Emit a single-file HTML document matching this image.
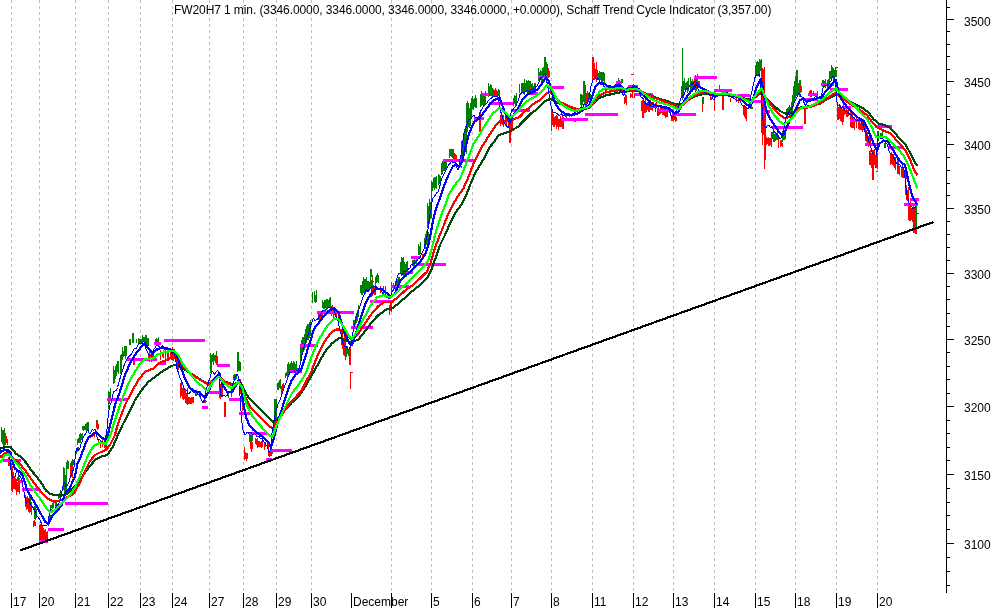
<!DOCTYPE html><html><head><meta charset="utf-8"><title>chart</title><style>
html,body{margin:0;padding:0;background:#fff;}body{width:994px;height:608px;position:relative;overflow:hidden;font-family:"Liberation Sans",sans-serif;font-size:12px;color:#000;}
.t{position:absolute;white-space:nowrap;line-height:14px;height:14px;will-change:transform;}
</style></head><body>
<svg width="994" height="608" viewBox="0 0 994 608" shape-rendering="crispEdges" style="position:absolute;left:0;top:0">
<rect width="994" height="608" fill="#fff"/>
<path d="M11.5 0V591M39.5 0V591M75.5 0V591M108.5 0V591M140.5 0V591M172.5 0V591M209.5 0V591M243.5 0V591M276.5 0V591M311.5 0V591M391.5 0V591M431.5 0V591M472.5 0V591M511.5 0V591M551.5 0V591M592.5 0V591M633.5 0V591M673.5 0V591M714.5 0V591M755.5 0V591M795.5 0V591M836.5 0V591M877.5 0V591" stroke="#c0c0c0" stroke-width="1" stroke-dasharray="3 3" fill="none"/>
<path d="M1.5 427V442M2.5 430V444M3.5 430V446M4.5 428V446M5.5 433V445M17.5 477V481M18.5 475V481M19.5 478V481M29.5 495V508M30.5 495V508M34.5 506V519M35.5 504V520M36.5 509V518M48.5 518V526M49.5 515V523M50.5 515V521M50.5 505V510M51.5 505V508M52.5 503V509M53.5 502V508M55.5 502V507M56.5 501V509M58.5 494V499M59.5 493V498M60.5 490V498M63.5 467V490M64.5 472V489M65.5 475V489M66.5 469V493M66.5 462V471M67.5 460V469M68.5 461V469M70.5 463V469M71.5 461V471M72.5 459V470M72.5 461V466M73.5 460V465M74.5 461V465M76.5 448V454M77.5 447V452M78.5 447V450M77.5 439V445M78.5 438V443M79.5 434V443M80.5 433V443M81.5 434V440M82.5 433V440M82.5 426V430M83.5 426V431M84.5 426V430M85.5 424V430M86.5 423V431M87.5 422V430M88.5 422V430M96.5 420V424M97.5 420V424M106.5 433V438M107.5 431V438M108.5 432V439M108.5 391V409M109.5 392V404M110.5 388V398M113.5 366V384M114.5 370V383M115.5 366V379M116.5 364V376M117.5 361V372M118.5 361V374M120.5 355V374M121.5 354V372M122.5 347V360M123.5 351V357M124.5 346V356M125.5 346V359M126.5 346V356M129.5 339V345M130.5 339V345M132.5 333V343M133.5 333V343M136.5 339V343M138.5 338V343M139.5 339V344M140.5 339V343M141.5 339V343M142.5 335V343M143.5 337V342M144.5 337V343M145.5 335V345M146.5 335V345M147.5 338V346M148.5 338V346M155.5 339V345M156.5 338V345M157.5 339V346M158.5 337V345M195.5 390V396M196.5 392V396M200.5 391V397M210.5 353V362M211.5 355V366M212.5 354V362M213.5 353V365M214.5 355V361M215.5 355V363M216.5 351V362M210.5 358V373M211.5 358V373M228.5 392V398M231.5 392V397M233.5 375V380M234.5 374V381M235.5 374V380M236.5 375V379M237.5 352V372M238.5 352V371M239.5 361V371M240.5 362V371M249.5 435V442M250.5 434V443M251.5 434V442M252.5 434V441M270.5 449V455M271.5 448V456M272.5 449V454M273.5 421V435M274.5 408V428M275.5 407V424M276.5 404V416M277.5 383V390M278.5 382V390M279.5 380V388M280.5 379V389M285.5 373V378M286.5 372V376M287.5 369V377M288.5 370V375M287.5 364V371M288.5 362V371M289.5 364V372M290.5 363V372M291.5 361V372M292.5 363V370M293.5 361V372M294.5 362V372M295.5 364V371M296.5 361V372M300.5 349V361M301.5 348V355M302.5 341V354M303.5 337V350M304.5 339V350M305.5 334V348M306.5 332V343M307.5 327V340M308.5 326V340M309.5 324V333M310.5 321V331M312.5 292V303M314.5 291V302M315.5 295V303M316.5 290V302M322.5 300V308M323.5 302V309M324.5 300V309M325.5 300V308M326.5 299V309M327.5 299V308M328.5 300V307M329.5 298V308M330.5 297V308M346.5 346V357M347.5 346V354M348.5 349V356M353.5 320V327M354.5 320V326M355.5 316V325M356.5 313V323M357.5 310V321M358.5 305V317M360.5 285V293M361.5 285V295M362.5 281V295M363.5 283V293M364.5 280V294M365.5 279V294M366.5 279V292M367.5 281V290M368.5 281V290M369.5 282V291M370.5 277V288M371.5 280V289M372.5 275V287M363.5 277V283M364.5 279V283M365.5 279V285M366.5 277V284M375.5 277V283M376.5 277V282M377.5 276V282M378.5 276V283M391.5 282V294M393.5 283V291M395.5 283V290M396.5 280V289M397.5 279V291M398.5 277V287M399.5 277V290M370.5 269V277M371.5 269V277M376.5 275V283M377.5 273V280M378.5 275V283M400.5 262V273M401.5 257V276M402.5 258V275M403.5 257V276M404.5 262V275M405.5 264V274M406.5 262V277M407.5 261V273M412.5 260V266M413.5 260V267M414.5 258V267M415.5 260V264M416.5 259V266M418.5 244V255M419.5 246V255M420.5 242V254M424.5 238V248M425.5 234V249M426.5 231V245M427.5 230V248M428.5 232V246M427.5 203V228M428.5 206V223M429.5 199V224M430.5 202V219M431.5 192V218M431.5 181V192M432.5 182V191M433.5 178V188M434.5 177V190M435.5 177V188M436.5 176V189M438.5 174V185M439.5 175V184M440.5 176V186M441.5 163V175M442.5 161V174M443.5 162V171M444.5 161V171M445.5 160V171M446.5 160V170M449.5 149V158M450.5 149V156M451.5 149V157M452.5 149V158M453.5 149V160M461.5 148V159M462.5 147V157M463.5 144V155M464.5 144V156M465.5 139V151M466.5 137V154M466.5 110V134M467.5 114V132M468.5 107V127M469.5 108V128M470.5 104V126M471.5 105V119M472.5 96V109M473.5 99V110M474.5 98V107M475.5 95V108M476.5 98V108M480.5 94V107M481.5 91V106M482.5 94V105M483.5 96V105M484.5 96V105M485.5 91V105M488.5 83V97M489.5 86V96M490.5 84V96M491.5 85V96M492.5 88V96M497.5 91V96M498.5 89V96M499.5 90V97M508.5 121V126M509.5 122V126M510.5 121V126M513.5 98V106M514.5 95V104M515.5 96V106M516.5 93V104M519.5 84V93M521.5 83V93M522.5 83V93M523.5 83V94M524.5 79V95M525.5 83V91M526.5 80V92M527.5 81V94M528.5 80V94M529.5 81V90M530.5 81V95M531.5 84V92M532.5 83V90M533.5 86V92M534.5 83V92M535.5 83V90M538.5 68V81M539.5 72V80M540.5 70V80M541.5 71V82M542.5 68V83M543.5 67V78M544.5 64V78M545.5 67V79M546.5 62V79M547.5 64V81M565.5 113V117M566.5 113V118M569.5 113V117M571.5 114V117M580.5 94V105M581.5 94V107M582.5 95V105M583.5 92V102M584.5 91V104M585.5 85V105M583.5 81V100M584.5 81V100M587.5 91V103M588.5 93V100M589.5 95V100M590.5 94V102M596.5 73V79M597.5 70V80M598.5 73V79M599.5 71V80M601.5 72V81M602.5 72V82M603.5 72V81M604.5 73V83M600.5 72V80M601.5 75V82M602.5 73V80M603.5 74V81M618.5 78V83M619.5 80V82M621.5 79V82M622.5 79V83M666.5 112V117M667.5 112V117M681.5 86V97M682.5 84V95M683.5 82V98M682.5 48V100M683.5 81V93M684.5 78V90M685.5 83V92M686.5 82V90M687.5 81V93M688.5 78V91M690.5 77V91M691.5 81V92M692.5 79V92M693.5 81V90M694.5 77V90M695.5 75V92M696.5 76V91M697.5 74V89M702.5 97V104M703.5 97V104M719.5 85V89M748.5 106V109M750.5 106V109M751.5 105V109M752.5 107V109M755.5 65V75M756.5 62V75M757.5 61V75M758.5 62V74M759.5 59V74M760.5 60V71M761.5 59V73M771.5 132V141M772.5 132V139M773.5 132V142M774.5 134V142M775.5 132V141M776.5 134V140M777.5 132V140M778.5 135V142M782.5 131V142M783.5 133V140M784.5 133V140M785.5 133V139M786.5 109V119M787.5 108V118M788.5 107V115M789.5 105V116M790.5 107V115M791.5 102V113M792.5 102V114M792.5 95V110M793.5 86V107M794.5 81V101M795.5 79V98M796.5 76V94M795.5 76V92M796.5 75V96M797.5 78V92M798.5 83V95M799.5 80V97M800.5 80V93M796.5 70V95M797.5 70V95M822.5 80V87M823.5 80V86M824.5 81V87M825.5 79V88M827.5 80V88M828.5 79V87M829.5 79V88M829.5 71V81M830.5 71V79M831.5 70V79M832.5 67V78M833.5 68V81M834.5 70V80M835.5 67V77M836.5 70V77M831.5 65V80M845.5 111V114M846.5 111V115M847.5 111V114M848.5 111V115M877.5 131V141M878.5 131V141M880.5 133V137M881.5 133V137M882.5 130V136M884.5 143V148M885.5 143V148M300.5 345V358M301.5 340V356M302.5 337V354M303.5 337V352M304.5 334V350M305.5 329V343M306.5 326V341M307.5 324V340M308.5 324V338M309.5 322V338M310.5 320V336M461.5 141V159M462.5 141V155M463.5 133V150M464.5 129V149M465.5 126V145M466.5 128V149M466.5 103V135M467.5 101V129M468.5 103V125M469.5 108V123M470.5 103V118M471.5 98V117M660.5 109V111M663.5 109V112M64.5 468V495M65.5 476V491M66.5 469V493M544.5 57V75M545.5 57V75M274.5 399V436M275.5 399V434M275.5 399V425M276.5 399V425M897.5 167V172M899.5 167V172M901.5 167V171M902.5 168V173M915.5 206V228M916.5 206V228" stroke="#008000" stroke-width="1" fill="none"/>
<path d="M5.5 436V442M6.5 436V443M7.5 439V445M8.5 457V466M9.5 457V466M11.5 463V477M12.5 466V481M13.5 472V483M11.5 475V491M12.5 478V492M13.5 477V489M14.5 476V489M15.5 478V490M16.5 479V495M17.5 482V492M18.5 479V492M19.5 482V494M25.5 495V507M26.5 497V510M27.5 496V509M28.5 498V512M29.5 498V513M30.5 504V512M31.5 502V515M33.5 521V527M34.5 520V526M35.5 522V526M39.5 525V540M40.5 524V540M41.5 525V539M42.5 525V540M43.5 528V541M44.5 530V541M45.5 529V541M46.5 532V538M47.5 531V543M40.5 530V542M41.5 529V543M42.5 531V542M43.5 529V541M44.5 533V540M45.5 531V542M46.5 532V540M47.5 531V540M41.5 535V541M42.5 535V542M43.5 533V543M44.5 533V542M45.5 536V542M46.5 536V540M70.5 465V476M71.5 464V477M72.5 466V478M92.5 433V437M93.5 433V436M94.5 432V437M96.5 421V428M97.5 424V430M98.5 424V429M98.5 440V445M100.5 440V448M102.5 439V447M104.5 439V448M105.5 440V450M106.5 441V450M133.5 360V365M134.5 360V365M148.5 353V360M149.5 351V362M150.5 354V361M151.5 351V362M152.5 354V360M153.5 353V361M160.5 350V360M162.5 352V357M163.5 350V358M165.5 349V360M167.5 350V360M168.5 352V361M170.5 352V359M171.5 352V360M172.5 347V360M173.5 349V361M174.5 349V358M175.5 351V358M176.5 359V369M177.5 356V371M178.5 361V370M180.5 383V397M181.5 382V395M182.5 388V399M183.5 387V400M184.5 390V398M185.5 390V399M187.5 392V405M186.5 397V403M187.5 395V402M188.5 397V404M189.5 398V402M190.5 398V404M191.5 397V404M192.5 397V403M193.5 397V403M203.5 400V403M204.5 400V403M205.5 400V403M206.5 401V402M216.5 356V365M217.5 356V365M219.5 379V398M220.5 384V399M221.5 383V397M222.5 382V397M224.5 402V417M225.5 402V417M240.5 379V394M241.5 383V402M242.5 396V411M244.5 447V460M245.5 452V459M246.5 453V461M247.5 453V459M250.5 441V449M251.5 442V452M252.5 442V449M255.5 438V444M256.5 439V445M257.5 438V448M258.5 441V447M259.5 441V447M260.5 442V447M261.5 441V448M262.5 439V447M264.5 443V450M265.5 442V447M267.5 442V449M268.5 444V450M268.5 452V456M269.5 452V457M270.5 451V456M281.5 386V394M282.5 384V391M283.5 383V391M297.5 368V373M298.5 368V372M299.5 367V371M318.5 313V320M319.5 313V321M320.5 314V321M321.5 313V320M322.5 312V320M331.5 306V316M332.5 305V314M333.5 307V318M334.5 307V315M335.5 310V316M336.5 311V320M338.5 313V319M341.5 332V345M342.5 331V349M343.5 338V355M344.5 334V356M345.5 337V360M349.5 347V365M350.5 347V365M371.5 287V297M372.5 287V296M373.5 285V294M374.5 286V295M375.5 283V295M380.5 286V293M383.5 286V295M385.5 286V295M389.5 305V315M390.5 302V311M391.5 304V312M371.5 281V282M372.5 280V282M373.5 281V282M422.5 254V258M423.5 254V258M453.5 154V158M454.5 153V159M455.5 154V159M456.5 155V160M458.5 166V168M459.5 166V168M460.5 165V167M461.5 166V168M479.5 112V132M480.5 112V132M493.5 89V96M494.5 90V96M495.5 88V96M496.5 90V97M500.5 115V126M501.5 112V124M502.5 116V125M503.5 115V127M505.5 116V126M506.5 117V126M508.5 119V128M509.5 119V130M510.5 117V129M511.5 116V129M512.5 119V130M509.5 125V143M510.5 125V143M527.5 87V92M529.5 85V92M530.5 88V91M531.5 86V93M547.5 67V76M548.5 68V78M549.5 71V77M551.5 106V131M552.5 112V125M553.5 114V125M553.5 115V127M554.5 117V127M555.5 116V125M556.5 115V129M557.5 116V127M558.5 119V130M559.5 119V127M560.5 116V127M561.5 119V127M562.5 116V129M563.5 117V129M574.5 118V122M575.5 118V122M585.5 93V107M586.5 93V107M592.5 66V81M593.5 64V77M594.5 63V80M595.5 69V77M596.5 62V82M605.5 88V92M606.5 88V92M610.5 87V92M615.5 88V92M617.5 87V93M620.5 89V92M622.5 88V92M624.5 97V104M625.5 94V103M626.5 95V105M630.5 93V98M631.5 94V97M632.5 92V98M634.5 93V98M641.5 101V111M642.5 102V110M643.5 99V109M644.5 102V108M645.5 99V108M646.5 103V110M647.5 103V110M648.5 101V109M649.5 102V109M650.5 100V108M642.5 100V118M643.5 100V118M652.5 102V106M653.5 102V107M655.5 103V108M656.5 101V108M657.5 108V116M658.5 109V116M659.5 110V115M664.5 110V116M665.5 110V118M666.5 111V117M671.5 115V121M672.5 116V121M673.5 116V121M674.5 116V120M675.5 115V122M676.5 117V121M694.5 80V87M695.5 81V87M696.5 81V88M697.5 80V89M698.5 81V88M699.5 81V88M702.5 104V112M710.5 96V100M711.5 97V100M712.5 97V99M714.5 98V111M722.5 96V110M723.5 96V110M730.5 98V102M736.5 98V102M738.5 98V103M740.5 98V103M743.5 105V115M744.5 106V117M745.5 106V119M746.5 108V121M761.5 90V133M762.5 86V138M763.5 91V125M764.5 67V125M764.5 100V169M765.5 100V160M765.5 138V145M766.5 137V145M767.5 138V144M768.5 137V146M769.5 138V146M770.5 138V145M771.5 140V147M778.5 139V148M780.5 140V147M781.5 140V146M782.5 143V147M799.5 84V91M800.5 86V92M801.5 86V92M804.5 107V124M805.5 107V124M809.5 91V96M810.5 90V97M811.5 90V97M813.5 91V95M817.5 91V97M837.5 105V120M838.5 107V120M839.5 105V119M840.5 105V121M841.5 107V122M842.5 109V125M843.5 102V122M844.5 110V115M846.5 109V117M847.5 110V117M848.5 110V116M850.5 110V117M851.5 112V117M852.5 112V118M850.5 117V127M851.5 117V128M852.5 118V128M853.5 118V128M854.5 117V130M856.5 117V128M858.5 118V129M859.5 119V130M860.5 123V130M861.5 123V130M862.5 120V132M863.5 123V130M864.5 121V131M865.5 125V133M865.5 133V141M866.5 130V142M867.5 132V144M868.5 136V147M869.5 135V146M870.5 136V145M869.5 151V165M870.5 150V165M871.5 153V168M872.5 155V169M873.5 152V169M874.5 149V165M875.5 155V168M876.5 155V168M877.5 153V169M872.5 150V180M873.5 150V180M641.5 103V111M642.5 100V112M643.5 104V111M644.5 103V113M645.5 104V113M646.5 103V112M647.5 102V110M648.5 101V112M649.5 104V112M650.5 102V110M646.5 104V109M647.5 106V109M649.5 105V111M650.5 106V110M651.5 104V110M652.5 105V111M655.5 108V112M658.5 107V113M660.5 107V114M661.5 108V113M662.5 108V115M663.5 108V115M664.5 110V115M665.5 109V115M666.5 109V115M667.5 109V114M761.5 84V121M762.5 82V134M763.5 83V130M764.5 73V130M761.5 65V128M762.5 88V125M763.5 69V130M762.5 68V145M763.5 77V135M764.5 73V141M180.5 384V398M181.5 386V396M182.5 389V399M183.5 386V399M184.5 388V399M185.5 392V403M186.5 393V403M187.5 388V404M186.5 398V404M187.5 397V404M189.5 397V404M191.5 397V404M592.5 57V72M593.5 57V72M890.5 153V165M891.5 152V164M892.5 154V165M893.5 154V166M894.5 158V168M895.5 157V170M897.5 160V174M898.5 161V174M899.5 166V175M901.5 167V177M902.5 164V178M903.5 167V178M905.5 166V179M906.5 171V179M905.5 181V195M906.5 185V200M907.5 190V201M908.5 187V206M908.5 197V220M909.5 203V221M910.5 200V221M911.5 208V220M912.5 209V222M913.5 206V227M914.5 207V227M913.5 221V233M914.5 222V233M915.5 227V234M916.5 229V234" stroke="#ff0000" stroke-width="1" fill="none"/>
<path d="M631 74.5H634M876 171.5H878M350.5 372.5H353" stroke="#ff0000" stroke-width="1"/>
<path d="M836 67.5H838M915 213.5H919" stroke="#008000" stroke-width="1"/>
<path d="M350.5 372V389" stroke="#ff0000" stroke-width="1"/>
<path d="M3 460.5H21M19 481.5H23M22 489.5H40M65 503.5H108M48 529.5H64M39 541.5H48M107 399.5H128M127 359.5H157M154 343.5H161M164 340.5H205M159 363.5H166M217 365.5H230M207 392.5H220M202 407.5H208M229 399.5H242M239 413.5H251M249 433.5H267M270 450.5H292M266 459.5H272M290 371.5H302M300 345.5H318M317 312.5H354M351 327.5H373M370 301.5H394M391 286.5H409M406 272.5H413M411 257.5H420M418 264.5H446M443 160.5H475M474 118.5H484M482 94.5H489M489 103.5H513M511 110.5H530M529 93.5H538M538 76.5H548M548 87.5H564M561 119.5H588M585 114.5H618M616 82.5H622M628 86.5H638M635 94.5H653M650 106.5H657M658 110.5H674M672 114.5H696M694 77.5H717M714 90.5H732M737 95.5H750M753 101.5H764M762 111.5H770M772 127.5H803M804 99.5H818M808 94.5H817M821 84.5H834M830 89.5H848M844 107.5H851M850 120.5H864M875 126.5H892M865 144.5H879M888 147.5H904M910 199.5H919M904 204.5H918" stroke="#ff00ff" stroke-width="3" fill="none"/>
<polyline points="0.0,448.5 5.0,447.0 10.6,447.0 16.0,453.7 21.0,457.0 26.0,462.5 31.0,470.0 36.0,476.0 41.0,482.5 46.0,490.6 50.0,493.7 55.0,495.2 62.0,495.5 67.5,493.7 75.0,486.0 80.0,480.0 85.0,472.5 90.0,466.0 95.0,460.0 100.0,457.0 107.5,455.0 112.5,447.5 117.5,436.0 122.5,425.0 128.4,413.5 135.0,400.0 141.7,390.0 148.4,381.8 155.0,376.8 161.8,371.8 168.5,367.6 175.0,364.6 180.0,366.8 186.8,371.0 193.5,375.0 200.0,379.3 208.5,384.3 213.5,380.0 218.6,376.8 225.3,381.8 233.4,384.6 240.0,381.7 246.7,395.0 253.4,402.6 260.0,409.2 266.8,416.0 272.6,421.8 278.5,417.6 285.0,410.0 291.8,402.6 298.5,396.7 305.2,386.7 310.2,378.0 311.8,375.2 318.4,363.5 325.0,351.8 331.8,343.5 340.0,337.6 346.8,341.0 351.8,342.6 358.5,339.3 365.2,331.0 371.9,321.8 378.5,315.0 386.9,309.2 391.9,308.4 398.6,303.4 407.0,295.9 413.4,290.2 420.0,285.2 426.8,278.5 431.8,268.5 436.0,256.8 440.0,245.0 445.0,235.0 450.0,223.4 455.0,213.4 461.0,205.0 466.0,196.0 470.0,185.2 475.0,173.5 480.0,165.0 485.0,156.8 490.0,146.8 494.0,142.0 498.6,135.0 506.0,132.7 511.0,131.0 517.8,126.8 524.5,120.0 531.0,113.5 537.8,108.5 544.5,101.8 549.5,98.8 554.5,101.0 559.5,103.5 566.2,106.0 574.6,108.5 583.0,109.3 589.6,107.6 594.6,102.6 599.6,97.8 606.7,95.2 613.4,93.8 621.7,92.0 630.0,91.0 638.4,91.0 645.0,93.4 651.8,96.0 658.5,98.5 666.8,101.0 673.5,103.5 679.3,104.8 683.5,103.5 688.5,100.0 695.2,96.0 701.9,94.3 708.5,94.3 715.2,94.8 723.6,94.8 733.6,96.0 740.0,97.4 746.7,99.2 751.7,99.8 756.7,96.0 761.7,92.6 765.0,96.8 770.0,102.6 775.0,106.8 780.0,111.0 785.0,113.5 790.0,113.5 795.0,111.0 800.0,107.6 806.8,106.8 813.5,105.0 820.2,103.5 826.8,99.3 831.9,96.8 836.9,94.6 841.9,97.6 848.5,101.0 855.2,104.3 861.9,107.6 868.6,112.6 873.6,119.3 878.6,123.5 885.3,125.3 890.3,128.0 895.3,133.4 901.5,140.8 905.7,145.0 909.0,150.9 912.3,157.5 914.8,162.5 917.3,165.9" fill="none" stroke="#004b0a" stroke-width="2.2" stroke-linejoin="round" stroke-linecap="butt" />
<polyline points="0.0,457.5 5.0,452.7 8.7,452.7 12.5,457.5 18.7,462.5 25.0,470.0 31.0,478.7 37.5,487.5 43.7,495.0 49.0,499.5 55.0,501.7 60.0,500.5 66.0,498.0 73.7,493.7 80.0,482.5 85.0,471.0 90.0,461.0 95.0,455.0 100.0,452.5 106.0,450.0 110.0,445.0 115.0,435.0 117.5,425.0 125.0,405.0 131.7,391.8 138.4,380.0 145.0,371.8 153.4,368.4 160.0,362.6 166.8,360.0 173.5,356.7 178.5,361.0 183.5,366.8 190.0,373.4 196.9,377.6 203.5,381.8 208.5,385.0 213.5,379.3 218.6,376.0 225.3,382.5 233.4,385.5 239.2,382.5 245.0,396.7 250.0,406.7 256.7,413.4 263.4,420.0 270.0,426.8 272.6,428.5 276.8,421.8 281.8,415.0 288.5,405.0 295.2,397.6 301.8,390.0 306.8,380.0 310.0,375.2 315.0,361.8 320.0,350.0 325.0,341.0 331.0,332.6 336.8,329.3 341.0,330.0 346.8,336.0 351.8,339.3 358.5,333.5 365.2,323.4 371.9,313.4 378.5,305.9 385.2,301.7 391.0,302.6 398.6,296.7 405.6,290.0 413.4,284.6 420.0,278.5 426.8,271.8 431.0,261.8 434.3,250.0 438.5,238.4 442.6,228.4 447.7,215.0 452.7,205.0 457.7,196.5 463.4,188.5 468.5,176.8 473.5,163.5 478.5,153.5 482.7,145.5 489.4,135.0 496.0,125.0 500.3,120.5 506.0,121.0 512.8,119.6 519.5,117.0 526.0,110.4 532.8,104.5 539.5,100.2 546.2,93.4 549.5,91.8 553.7,96.0 559.5,101.8 566.2,105.0 574.6,108.5 583.0,109.3 591.3,106.0 596.3,98.4 601.3,94.3 606.7,92.0 613.4,91.0 621.7,89.8 630.0,90.0 638.4,90.0 645.0,93.4 651.8,96.8 658.5,99.3 666.8,102.6 673.5,105.0 678.5,106.8 683.5,104.3 688.5,100.0 693.5,96.0 700.2,93.0 706.9,93.0 713.6,94.3 720.2,94.3 728.6,94.3 737.0,96.0 740.0,97.5 746.7,99.8 751.7,101.0 756.7,95.0 761.7,91.0 765.0,96.8 770.0,103.4 775.0,110.0 780.0,115.0 785.0,118.5 790.0,116.8 795.0,112.6 800.0,108.5 806.8,107.6 813.5,106.0 820.2,103.0 826.8,98.4 831.9,95.0 836.0,92.6 840.2,96.8 846.9,101.8 853.6,106.0 860.2,110.0 866.9,115.0 871.9,121.8 876.9,127.0 883.6,130.5 890.3,133.4 895.3,138.8 901.5,145.8 905.7,150.9 909.0,157.5 912.3,165.0 914.8,171.7 917.3,175.0" fill="none" stroke="#ff0000" stroke-width="2.2" stroke-linejoin="round" stroke-linecap="butt" />
<polyline points="0.0,453.0 3.8,450.0 7.5,450.0 10.6,452.5 12.5,461.0 15.0,468.7 18.7,471.0 22.5,475.0 25.0,482.5 27.0,490.0 30.0,495.0 36.0,505.0 41.0,514.0 45.0,521.7 48.4,524.0 51.7,516.7 56.7,511.7 61.7,505.0 65.0,493.7 70.0,487.5 75.0,476.0 77.5,463.7 81.0,456.0 85.0,445.0 88.7,437.5 96.0,432.0 100.0,436.0 105.0,440.0 107.5,437.5 110.0,425.5 115.0,405.0 120.0,391.7 125.0,375.0 130.0,363.4 135.0,355.0 140.0,348.4 145.0,343.4 148.4,348.4 152.6,353.4 157.6,349.0 163.4,347.5 170.0,349.0 176.0,352.5 180.0,365.0 185.0,378.4 190.0,388.4 195.0,391.0 200.0,392.6 205.0,398.5 208.5,391.8 213.5,380.0 219.4,373.4 222.7,385.0 227.0,391.8 232.0,392.5 237.0,383.4 238.8,379.5 240.9,385.0 243.4,403.4 245.9,416.8 249.2,425.0 253.4,430.0 260.0,435.0 265.0,438.5 269.3,443.5 271.0,447.7 274.3,436.8 278.5,420.0 282.6,406.7 286.8,393.4 291.0,381.7 295.2,375.0 299.0,372.5 301.7,368.5 305.9,355.2 310.0,341.8 314.3,328.4 318.4,323.4 323.4,316.7 328.5,311.0 334.3,308.4 338.5,312.6 341.8,323.4 345.2,335.0 349.3,343.5 351.8,345.0 354.3,338.5 358.5,325.0 362.7,311.7 366.9,300.0 371.9,292.5 376.9,288.4 381.9,289.2 386.9,293.4 391.0,296.7 395.3,292.5 400.0,281.5 405.0,276.0 410.0,272.0 413.4,268.5 420.0,261.8 425.0,255.0 428.5,245.0 431.0,231.8 433.5,218.4 436.0,208.4 439.3,200.0 441.4,193.4 444.2,185.2 448.4,175.2 452.6,166.8 456.0,164.3 459.3,166.8 462.6,160.0 465.5,146.8 469.4,132.5 474.4,121.8 479.4,118.4 484.4,111.8 489.4,105.0 494.4,100.0 499.4,97.5 502.5,106.0 506.0,115.0 509.6,122.0 512.8,116.5 517.8,108.6 522.8,98.8 527.8,94.0 532.8,92.6 537.8,89.2 542.0,83.4 546.2,77.6 548.7,80.9 551.2,90.0 554.5,101.8 559.5,110.0 566.2,114.3 572.9,115.0 579.6,112.6 585.4,107.6 589.6,105.0 592.0,96.8 595.4,86.8 599.6,82.6 603.5,83.6 607.7,86.0 613.8,87.3 620.0,85.0 625.0,91.0 630.0,88.4 635.0,86.8 640.0,90.0 645.0,96.8 650.0,102.6 656.8,106.0 663.5,106.8 670.0,108.5 674.3,113.5 678.5,111.8 681.8,105.0 686.8,96.8 691.8,90.0 696.9,84.3 700.2,87.6 705.2,90.0 710.2,92.6 715.2,96.8 720.2,94.3 726.9,93.4 733.6,96.0 740.0,98.0 745.0,103.4 750.0,106.8 753.4,98.4 756.7,86.8 760.9,79.2 762.5,86.8 764.2,100.0 766.7,111.8 770.0,118.5 773.4,123.5 777.6,130.0 781.8,135.0 784.3,134.3 786.8,126.8 790.0,120.0 793.4,113.5 796.8,106.8 800.0,100.0 803.5,98.4 806.8,101.8 811.8,100.0 816.8,98.4 821.8,97.6 825.2,91.8 830.2,86.8 834.4,80.9 836.0,80.0 838.5,91.8 841.9,100.0 846.9,106.8 851.9,111.8 856.9,116.8 863.6,121.0 866.9,126.8 870.3,135.0 873.6,143.4 877.0,151.0 879.5,143.4 883.6,141.0 887.8,141.5 889.8,145.0 894.0,151.7 898.0,158.4 902.3,163.4 904.8,165.0 906.5,171.7 909.0,183.4 911.5,193.4 914.0,200.0 917.3,204.3" fill="none" stroke="#0000ff" stroke-width="2.2" stroke-linejoin="round" stroke-linecap="butt" />
<polyline points="0.0,452.1 0.5,450.7 1.0,448.9 1.5,447.6 2.0,447.1 2.5,447.1 3.0,447.3 3.5,447.7 4.0,448.2 4.5,448.7 5.0,449.4 5.5,450.4 6.0,451.2 6.5,451.6 7.0,451.6 7.5,451.8 8.0,452.4 8.5,453.4 9.0,454.6 9.5,456.4 10.0,459.6 10.5,464.5 11.0,469.7 11.5,473.5 12.0,475.7 12.5,476.8 13.0,477.5 13.5,477.9 14.0,478.0 14.5,477.7 15.0,476.8 15.5,475.1 16.0,473.2 16.5,471.8 17.0,471.3 17.5,471.4 18.0,472.3 18.5,473.7 19.0,475.1 19.5,475.9 20.0,476.4 20.5,477.0 21.0,477.7 21.5,478.7 22.0,480.7 22.5,483.7 23.0,486.8 23.5,489.5 24.0,492.0 24.5,495.1 25.0,498.3 25.5,501.2 26.0,502.9 26.5,503.3 27.0,502.4 27.5,500.9 28.0,499.7 28.5,499.3 29.0,499.7 29.5,500.9 30.0,502.7 30.5,504.1 31.0,505.1 31.5,505.7 32.0,506.2 32.5,506.7 33.0,507.4 33.5,508.3 34.0,509.6 34.5,510.7 35.0,511.5 35.5,512.4 36.0,513.7 36.5,515.0 37.0,516.0 37.5,516.7 38.0,517.3 38.5,517.7 39.0,518.4 39.5,519.2 40.0,520.2 40.5,521.3 41.0,522.4 41.5,523.5 42.0,524.7 42.5,525.7 43.0,526.1 43.5,525.8 44.0,525.7 44.5,525.8 45.0,525.8 45.5,525.5 46.0,525.3 46.5,525.3 47.0,525.1 47.5,524.1 48.0,521.9 48.5,519.0 49.0,516.1 49.5,513.9 50.0,511.8 50.5,510.2 51.0,509.7 51.5,510.2 52.0,510.8 52.5,510.8 53.0,510.4 53.5,510.1 54.0,509.9 54.5,509.4 55.0,508.7 55.5,508.0 56.0,507.4 56.5,506.7 57.0,505.9 57.5,505.3 58.0,504.6 58.5,503.7 59.0,502.9 59.5,502.1 60.0,501.0 60.5,499.3 61.0,496.8 61.5,494.0 62.0,491.1 62.5,488.4 63.0,485.9 63.5,483.9 64.0,482.7 64.5,482.8 65.0,484.3 65.5,485.9 66.0,486.6 66.5,486.3 67.0,485.6 67.5,484.9 68.0,484.2 68.5,483.3 69.0,481.8 69.5,479.9 70.0,478.3 70.5,476.9 71.0,475.6 71.5,474.3 72.0,473.0 72.5,471.8 73.0,470.6 73.5,469.1 74.0,466.8 74.5,463.4 75.0,459.0 75.5,454.4 76.0,450.6 76.5,448.4 77.0,447.9 77.5,448.5 78.0,449.4 78.5,450.0 79.0,450.0 79.5,449.3 80.0,447.8 80.5,446.1 81.0,444.4 81.5,443.0 82.0,441.7 82.5,439.9 83.0,438.2 83.5,436.8 84.0,435.8 84.5,435.2 85.0,434.6 85.5,433.8 86.0,432.9 86.5,432.0 87.0,430.9 87.5,430.1 88.0,430.2 88.5,431.3 89.0,432.7 89.5,433.7 90.0,434.0 90.5,433.4 91.0,432.3 91.5,431.1 92.0,430.2 92.5,429.8 93.0,429.9 93.5,430.2 94.0,430.1 94.5,429.6 95.0,429.6 95.5,430.5 96.0,432.6 96.5,434.9 97.0,436.9 97.5,438.3 98.0,439.5 98.5,439.9 99.0,439.8 99.5,439.6 100.0,439.8 100.5,440.2 101.0,440.8 101.5,441.6 102.0,442.3 102.5,442.9 103.0,443.0 103.5,442.7 104.0,441.9 104.5,440.7 105.0,439.2 105.5,437.6 106.0,435.6 106.5,432.9 107.0,429.0 107.5,423.9 108.0,418.5 108.5,413.7 109.0,410.0 109.5,407.3 110.0,405.4 110.5,404.0 111.0,402.7 111.5,401.3 112.0,399.4 112.5,396.9 113.0,394.3 113.5,392.5 114.0,391.6 114.5,391.1 115.0,390.9 115.5,390.8 116.0,390.4 116.5,390.0 117.0,389.2 117.5,387.5 118.0,385.5 118.5,383.5 119.0,381.6 119.5,379.8 120.0,378.5 120.5,377.1 121.0,375.4 121.5,373.5 122.0,371.8 122.5,370.2 123.0,368.7 123.5,367.1 124.0,365.5 124.5,364.1 125.0,362.8 125.5,361.6 126.0,360.9 126.5,360.2 127.0,359.2 127.5,358.2 128.0,357.4 128.5,357.0 129.0,356.8 129.5,356.3 130.0,355.6 130.5,355.1 131.0,354.6 131.5,354.0 132.0,353.3 132.5,352.2 133.0,351.1 133.5,350.1 134.0,349.3 134.5,348.7 135.0,348.5 135.5,348.4 136.0,348.4 136.5,348.0 137.0,347.2 137.5,346.2 138.0,345.0 138.5,344.0 139.0,343.3 139.5,343.2 140.0,343.2 140.5,343.2 141.0,343.1 141.5,343.1 142.0,343.3 142.5,342.9 143.0,342.0 143.5,341.6 144.0,342.3 144.5,344.0 145.0,346.1 145.5,347.8 146.0,349.2 146.5,350.4 147.0,351.2 147.5,352.2 148.0,353.2 148.5,354.3 149.0,355.1 149.5,355.4 150.0,355.3 150.5,355.5 151.0,356.1 151.5,356.1 152.0,354.9 152.5,353.0 153.0,351.3 153.5,349.9 154.0,349.1 154.5,348.6 155.0,348.0 155.5,347.1 156.0,346.3 156.5,345.7 157.0,345.4 157.5,345.3 158.0,345.6 158.5,346.0 159.0,346.5 159.5,347.1 160.0,347.8 160.5,348.1 161.0,347.7 161.5,346.9 162.0,345.9 162.5,345.7 163.0,346.5 163.5,347.8 164.0,348.7 164.5,349.2 165.0,349.1 165.5,349.1 166.0,349.4 166.5,349.5 167.0,349.0 167.5,348.5 168.0,348.7 168.5,349.2 169.0,349.6 169.5,349.8 170.0,350.2 170.5,351.0 171.0,352.3 171.5,353.3 172.0,353.4 172.5,352.8 173.0,352.3 173.5,352.3 174.0,353.1 174.5,354.1 175.0,355.7 175.5,358.4 176.0,362.0 176.5,365.7 177.0,368.5 177.5,370.2 178.0,371.5 178.5,373.0 179.0,374.9 179.5,376.8 180.0,378.3 180.5,379.3 181.0,380.0 181.5,381.0 182.0,382.4 182.5,383.8 183.0,385.2 183.5,386.7 184.0,387.9 184.5,388.8 185.0,389.4 185.5,389.9 186.0,390.2 186.5,390.6 187.0,391.3 187.5,392.4 188.0,393.5 188.5,394.0 189.0,393.8 189.5,393.1 190.0,392.4 190.5,391.6 191.0,390.9 191.5,390.6 192.0,390.6 192.5,391.0 193.0,391.6 193.5,392.1 194.0,392.2 194.5,392.2 195.0,392.1 195.5,391.6 196.0,391.5 196.5,392.1 197.0,393.3 197.5,394.4 198.0,394.9 198.5,394.8 199.0,394.6 199.5,395.1 200.0,396.4 200.5,398.1 201.0,399.2 201.5,399.9 202.0,400.8 202.5,401.8 203.0,402.4 203.5,402.0 204.0,400.6 204.5,398.3 205.0,395.3 205.5,392.4 206.0,390.2 206.5,388.6 207.0,387.2 207.5,385.7 208.0,383.9 208.5,382.2 209.0,380.6 209.5,379.3 210.0,377.9 210.5,376.2 211.0,374.4 211.5,373.0 212.0,371.9 212.5,371.4 213.0,371.9 213.5,373.0 214.0,373.9 214.5,374.1 215.0,373.8 215.5,373.1 216.0,372.2 216.5,371.4 217.0,370.8 217.5,370.4 218.0,370.7 218.5,372.9 219.0,377.3 219.5,382.8 220.0,388.2 220.5,392.3 221.0,394.9 221.5,396.1 222.0,396.3 222.5,396.0 223.0,395.5 223.5,395.2 224.0,395.3 224.5,395.8 225.0,396.3 225.5,396.7 226.0,396.9 226.5,396.5 227.0,395.6 227.5,394.4 228.0,393.2 228.5,392.2 229.0,391.8 229.5,391.9 230.0,392.4 230.5,392.6 231.0,391.7 231.5,389.8 232.0,387.6 232.5,385.6 233.0,384.0 233.5,382.5 234.0,380.8 234.5,379.3 235.0,378.0 235.5,376.8 236.0,375.8 236.5,375.1 237.0,374.8 237.5,375.0 238.0,376.3 238.5,379.2 239.0,383.8 239.5,389.6 240.0,396.0 240.5,403.2 241.0,410.8 241.5,417.8 242.0,423.2 242.5,427.2 243.0,430.1 243.5,431.7 244.0,432.5 244.5,433.6 245.0,434.5 245.5,434.5 246.0,433.7 246.5,432.6 247.0,432.1 247.5,432.5 248.0,433.0 248.5,433.1 249.0,432.8 249.5,432.4 250.0,432.3 250.5,432.4 251.0,432.6 251.5,433.2 252.0,433.9 252.5,434.3 253.0,434.3 253.5,434.3 254.0,434.0 254.5,433.9 255.0,433.9 255.5,434.3 256.0,435.0 256.5,435.9 257.0,436.6 257.5,437.0 258.0,436.8 258.5,436.4 259.0,436.3 259.5,436.9 260.0,437.7 260.5,438.3 261.0,438.6 261.5,438.6 262.0,438.7 262.5,439.2 263.0,440.5 263.5,441.5 264.0,441.9 264.5,442.3 265.0,443.3 265.5,444.4 266.0,445.1 266.5,445.4 267.0,445.9 267.5,447.0 268.0,448.6 268.5,450.4 269.0,451.8 269.5,452.2 270.0,451.5 270.5,448.7 271.0,443.8 271.5,438.1 272.0,433.2 272.5,429.6 273.0,426.8 273.5,423.8 274.0,420.6 274.5,417.5 275.0,414.9 275.5,412.7 276.0,410.9 276.5,409.5 277.0,407.8 277.5,405.8 278.0,404.0 278.5,402.8 279.0,402.1 279.5,401.3 280.0,400.0 280.5,398.7 281.0,397.4 281.5,395.9 282.0,394.3 282.5,392.6 283.0,391.2 283.5,389.8 284.0,388.2 284.5,386.3 285.0,384.6 285.5,383.6 286.0,382.9 286.5,381.8 287.0,380.2 287.5,378.4 288.0,376.9 288.5,375.7 289.0,374.5 289.5,373.3 290.0,372.6 290.5,372.5 291.0,372.5 291.5,372.3 292.0,371.9 292.5,371.4 293.0,371.1 293.5,371.3 294.0,371.9 294.5,372.1 295.0,371.8 295.5,371.5 296.0,371.2 296.5,370.8 297.0,370.6 297.5,370.7 298.0,370.6 298.5,369.9 299.0,368.3 299.5,366.7 300.0,365.3 300.5,363.7 301.0,361.4 301.5,358.5 302.0,355.5 302.5,353.1 303.0,351.1 303.5,349.1 304.0,347.1 304.5,345.3 305.0,343.8 305.5,342.2 306.0,340.5 306.5,338.9 307.0,337.7 307.5,336.4 308.0,334.9 308.5,333.5 309.0,332.0 309.5,330.3 310.0,328.2 310.5,326.2 311.0,324.5 311.5,323.2 312.0,322.0 312.5,320.6 313.0,319.3 313.5,318.6 314.0,318.8 314.5,319.8 315.0,320.5 315.5,320.6 316.0,320.2 316.5,319.9 317.0,319.7 317.5,319.4 318.0,318.6 318.5,317.3 319.0,316.2 319.5,315.7 320.0,315.5 320.5,314.7 321.0,313.5 321.5,312.4 322.0,311.6 322.5,311.0 323.0,310.6 323.5,310.5 324.0,310.4 324.5,310.1 325.0,310.0 325.5,310.0 326.0,309.7 326.5,309.4 327.0,309.0 327.5,308.3 328.0,307.8 328.5,307.7 329.0,307.9 329.5,308.0 330.0,308.0 330.5,308.1 331.0,308.2 331.5,308.4 332.0,308.3 332.5,308.1 333.0,307.9 333.5,308.2 334.0,309.1 334.5,310.8 335.0,312.9 335.5,314.8 336.0,316.4 336.5,317.4 337.0,317.9 337.5,318.7 338.0,320.6 338.5,323.4 339.0,326.4 339.5,329.1 340.0,330.9 340.5,332.4 341.0,334.3 341.5,336.7 342.0,339.1 342.5,341.2 343.0,343.0 343.5,344.3 344.0,345.1 344.5,345.8 345.0,346.5 345.5,346.7 346.0,346.4 346.5,346.4 347.0,347.4 347.5,348.6 348.0,349.3 348.5,349.3 349.0,348.9 349.5,348.1 350.0,346.9 350.5,345.3 351.0,343.5 351.5,341.2 352.0,338.2 352.5,334.8 353.0,331.8 353.5,329.2 354.0,326.9 354.5,324.8 355.0,322.8 355.5,321.0 356.0,319.1 356.5,317.1 357.0,315.4 357.5,313.9 358.0,312.5 358.5,310.8 359.0,309.0 359.5,307.4 360.0,306.0 360.5,304.7 361.0,303.3 361.5,301.9 362.0,300.3 362.5,298.6 363.0,297.2 363.5,296.1 364.0,295.0 364.5,293.7 365.0,292.3 365.5,290.9 366.0,289.9 366.5,289.8 367.0,290.5 367.5,291.2 368.0,291.4 368.5,290.9 369.0,290.1 369.5,289.4 370.0,289.0 370.5,288.5 371.0,287.5 371.5,286.7 372.0,286.8 372.5,287.2 373.0,287.2 373.5,286.9 374.0,286.8 374.5,286.8 375.0,287.0 375.5,287.0 376.0,286.7 376.5,286.7 377.0,287.0 377.5,287.7 378.0,288.5 378.5,289.1 379.0,289.3 379.5,289.1 380.0,288.8 380.5,288.9 381.0,289.7 381.5,291.1 382.0,292.3 382.5,293.0 383.0,293.4 383.5,293.9 384.0,294.2 384.5,294.4 385.0,295.1 385.5,296.1 386.0,296.9 386.5,297.4 387.0,297.7 387.5,297.9 388.0,298.0 388.5,298.0 389.0,298.2 389.5,298.5 390.0,298.8 390.5,298.3 391.0,296.5 391.5,294.2 392.0,292.2 392.5,291.0 393.0,290.4 393.5,289.9 394.0,289.2 394.5,287.9 395.0,286.0 395.5,283.9 396.0,281.6 396.5,279.6 397.0,278.0 397.5,276.7 398.0,275.2 398.5,273.9 399.0,273.2 399.5,273.2 400.0,273.5 400.5,273.8 401.0,274.1 401.5,274.3 402.0,274.4 402.5,274.2 403.0,273.5 403.5,272.3 404.0,271.4 404.5,271.2 405.0,271.5 405.5,271.6 406.0,271.6 406.5,271.4 407.0,270.8 407.5,270.1 408.0,269.6 408.5,269.0 409.0,268.5 409.5,268.3 410.0,267.8 410.5,266.5 411.0,264.9 411.5,264.2 412.0,264.3 412.5,264.4 413.0,264.2 413.5,263.7 414.0,263.2 414.5,263.0 415.0,262.8 415.5,262.4 416.0,261.9 416.5,261.2 417.0,260.4 417.5,259.8 418.0,259.3 418.5,258.8 419.0,258.3 419.5,258.1 420.0,257.7 420.5,256.7 421.0,255.3 421.5,253.9 422.0,252.7 422.5,251.8 423.0,251.2 423.5,250.5 424.0,249.4 424.5,247.4 425.0,244.5 425.5,241.7 426.0,239.7 426.5,238.0 427.0,235.9 427.5,233.0 428.0,229.2 428.5,224.9 429.0,220.8 429.5,217.4 430.0,214.4 430.5,211.5 431.0,208.7 431.5,205.6 432.0,202.3 432.5,199.5 433.0,198.1 433.5,197.6 434.0,197.0 434.5,196.2 435.0,195.5 435.5,194.8 436.0,193.9 436.5,193.1 437.0,192.8 437.5,192.6 438.0,192.2 438.5,191.1 439.0,189.5 439.5,187.4 440.0,185.1 440.5,182.8 441.0,180.7 441.5,179.0 442.0,177.9 442.5,177.0 443.0,176.2 443.5,175.4 444.0,174.2 444.5,172.9 445.0,172.0 445.5,171.2 446.0,170.1 446.5,168.9 447.0,167.9 447.5,167.1 448.0,166.2 448.5,165.2 449.0,164.5 449.5,164.1 450.0,163.6 450.5,162.8 451.0,162.0 451.5,161.8 452.0,161.9 452.5,162.0 453.0,162.1 453.5,162.2 454.0,162.4 454.5,162.5 455.0,162.4 455.5,162.7 456.0,163.9 456.5,166.1 457.0,168.2 457.5,169.5 458.0,169.5 458.5,168.0 459.0,165.4 459.5,162.3 460.0,159.3 460.5,156.9 461.0,154.7 461.5,152.2 462.0,149.0 462.5,144.7 463.0,140.0 463.5,136.0 464.0,133.1 464.5,131.7 465.0,130.9 465.5,129.8 466.0,128.1 466.5,126.0 467.0,124.3 467.5,122.9 468.0,121.3 468.5,119.9 469.0,119.2 469.5,119.5 470.0,120.1 470.5,119.9 471.0,119.0 471.5,117.9 472.0,117.0 472.5,116.5 473.0,115.9 473.5,115.4 474.0,115.4 474.5,116.2 475.0,117.3 475.5,117.9 476.0,117.8 476.5,117.6 477.0,117.5 477.5,117.5 478.0,117.5 478.5,116.9 479.0,115.8 479.5,114.5 480.0,113.1 480.5,111.6 481.0,110.5 481.5,109.7 482.0,109.1 482.5,108.2 483.0,107.0 483.5,105.9 484.0,105.2 484.5,105.1 485.0,104.9 485.5,104.3 486.0,103.7 486.5,103.3 487.0,102.8 487.5,101.9 488.0,101.0 488.5,100.4 489.0,100.1 489.5,99.7 490.0,99.2 490.5,98.7 491.0,98.3 491.5,97.9 492.0,97.5 492.5,97.1 493.0,96.6 493.5,96.1 494.0,95.9 494.5,96.2 495.0,96.8 495.5,97.0 496.0,96.9 496.5,96.7 497.0,96.5 497.5,96.5 498.0,97.1 498.5,98.8 499.0,101.5 499.5,104.8 500.0,108.3 500.5,110.9 501.0,112.5 501.5,113.7 502.0,115.1 502.5,117.0 503.0,119.3 503.5,121.1 504.0,122.4 504.5,123.2 505.0,123.8 505.5,124.2 506.0,124.7 506.5,125.4 507.0,126.4 507.5,127.3 508.0,127.6 508.5,126.9 509.0,124.9 509.5,121.7 510.0,118.1 510.5,115.0 511.0,112.8 511.5,111.4 512.0,110.6 512.5,110.1 513.0,109.4 513.5,108.6 514.0,107.9 514.5,107.3 515.0,106.8 515.5,106.3 516.0,105.8 516.5,104.8 517.0,103.3 517.5,102.0 518.0,101.1 518.5,99.9 519.0,97.9 519.5,95.9 520.0,94.6 520.5,93.9 521.0,93.4 521.5,92.6 522.0,92.0 522.5,92.0 523.0,92.5 523.5,92.6 524.0,92.5 524.5,92.3 525.0,91.9 525.5,91.5 526.0,91.1 526.5,90.9 527.0,91.0 527.5,91.3 528.0,91.6 528.5,91.8 529.0,92.0 529.5,91.9 530.0,91.6 530.5,90.9 531.0,90.1 531.5,89.8 532.0,90.1 532.5,90.2 533.0,89.8 533.5,89.0 534.0,88.7 534.5,88.7 535.0,88.3 535.5,87.4 536.0,86.5 536.5,86.2 537.0,86.3 537.5,85.8 538.0,84.5 538.5,82.9 539.0,81.7 539.5,80.7 540.0,79.6 540.5,78.3 541.0,77.4 541.5,77.2 542.0,77.1 542.5,76.7 543.0,76.0 543.5,75.1 544.0,74.2 544.5,73.3 545.0,73.0 545.5,73.9 546.0,76.4 546.5,79.6 547.0,82.5 547.5,85.0 548.0,87.7 548.5,90.8 549.0,94.4 549.5,98.1 550.0,101.3 550.5,103.8 551.0,105.7 551.5,107.5 552.0,109.3 552.5,110.8 553.0,111.8 553.5,112.5 554.0,112.8 554.5,112.6 555.0,112.2 555.5,112.3 556.0,112.8 556.5,113.2 557.0,113.3 557.5,113.7 558.0,114.5 558.5,115.3 559.0,115.8 559.5,115.7 560.0,115.2 560.5,114.3 561.0,113.8 561.5,113.9 562.0,114.4 562.5,114.9 563.0,115.4 563.5,115.7 564.0,115.7 564.5,115.4 565.0,115.1 565.5,115.2 566.0,115.0 566.5,114.7 567.0,114.2 567.5,114.0 568.0,114.1 568.5,114.4 569.0,114.6 569.5,114.6 570.0,114.5 570.5,114.3 571.0,114.4 571.5,114.5 572.0,114.4 572.5,113.9 573.0,113.3 573.5,113.1 574.0,113.2 574.5,113.1 575.0,112.7 575.5,112.2 576.0,112.0 576.5,111.9 577.0,111.4 577.5,110.7 578.0,110.4 578.5,110.3 579.0,110.3 579.5,109.9 580.0,108.9 580.5,107.9 581.0,107.6 581.5,107.8 582.0,108.2 582.5,107.9 583.0,106.7 583.5,105.3 584.0,104.6 584.5,104.6 585.0,104.7 585.5,104.6 586.0,104.5 586.5,104.4 587.0,104.2 587.5,103.6 588.0,102.1 588.5,100.3 589.0,98.3 589.5,95.7 590.0,92.0 590.5,88.3 591.0,85.7 591.5,84.1 592.0,82.8 592.5,81.4 593.0,80.0 593.5,78.9 594.0,78.2 594.5,77.8 595.0,77.7 595.5,77.8 596.0,78.5 596.5,79.2 597.0,79.4 597.5,79.1 598.0,78.8 598.5,79.0 599.0,79.6 599.5,80.8 600.0,82.3 600.5,83.7 601.0,84.5 601.5,84.7 602.0,84.5 602.5,84.4 603.0,84.9 603.5,85.7 604.0,86.5 604.5,87.1 605.0,87.3 605.5,87.4 606.0,87.2 606.5,87.0 607.0,87.1 607.5,87.3 608.0,87.4 608.5,87.2 609.0,87.2 609.5,87.4 610.0,87.7 610.5,87.8 611.0,87.9 611.5,87.9 612.0,88.0 612.5,88.0 613.0,87.5 613.5,86.7 614.0,85.9 614.5,85.3 615.0,85.1 615.5,85.0 616.0,84.9 616.5,84.9 617.0,84.7 617.5,84.3 618.0,83.8 618.5,83.3 619.0,83.5 619.5,84.8 620.0,87.1 620.5,89.8 621.0,91.7 621.5,92.3 622.0,92.6 622.5,93.4 623.0,94.5 623.5,95.1 624.0,94.7 624.5,93.2 625.0,91.1 625.5,89.4 626.0,88.5 626.5,88.1 627.0,87.9 627.5,87.7 628.0,87.6 628.5,87.4 629.0,87.1 629.5,87.1 630.0,87.2 630.5,87.1 631.0,87.3 631.5,87.4 632.0,87.1 632.5,86.1 633.0,85.0 633.5,84.6 634.0,85.0 634.5,86.0 635.0,87.4 635.5,88.6 636.0,89.5 636.5,90.1 637.0,90.5 637.5,90.7 638.0,90.6 638.5,90.2 639.0,90.4 639.5,91.5 640.0,93.5 640.5,95.7 641.0,97.3 641.5,97.8 642.0,97.6 642.5,97.7 643.0,98.4 643.5,99.5 644.0,100.6 644.5,101.8 645.0,102.6 645.5,103.0 646.0,103.5 646.5,104.2 647.0,104.5 647.5,104.7 648.0,104.8 648.5,104.5 649.0,104.4 649.5,105.0 650.0,105.7 650.5,106.1 651.0,106.4 651.5,106.5 652.0,106.3 652.5,106.2 653.0,106.5 653.5,106.9 654.0,107.2 654.5,107.7 655.0,108.3 655.5,108.5 656.0,107.9 656.5,106.8 657.0,106.2 657.5,106.0 658.0,106.1 658.5,106.3 659.0,106.5 659.5,106.5 660.0,106.5 660.5,106.5 661.0,106.5 661.5,106.7 662.0,107.0 662.5,107.3 663.0,107.5 663.5,107.6 664.0,107.9 664.5,108.3 665.0,108.6 665.5,108.8 666.0,108.9 666.5,108.6 667.0,108.0 667.5,107.7 668.0,108.0 668.5,108.6 669.0,109.4 669.5,110.6 670.0,112.5 670.5,114.5 671.0,116.0 671.5,116.9 672.0,117.5 672.5,117.8 673.0,117.4 673.5,116.4 674.0,115.3 674.5,114.1 675.0,112.8 675.5,111.6 676.0,110.9 676.5,110.7 677.0,110.1 677.5,109.1 678.0,107.9 678.5,106.5 679.0,104.6 679.5,102.5 680.0,100.7 680.5,99.2 681.0,98.0 681.5,97.0 682.0,96.3 682.5,95.9 683.0,95.7 683.5,95.3 684.0,94.6 684.5,93.5 685.0,92.1 685.5,90.6 686.0,89.1 686.5,88.4 687.0,88.3 687.5,88.4 688.0,88.4 688.5,88.0 689.0,87.1 689.5,86.1 690.0,85.2 690.5,84.5 691.0,84.1 691.5,84.0 692.0,84.1 692.5,84.1 693.0,83.8 693.5,83.2 694.0,82.4 694.5,81.5 695.0,81.1 695.5,81.3 696.0,82.2 696.5,83.6 697.0,85.4 697.5,87.4 698.0,89.2 698.5,90.3 699.0,90.6 699.5,90.5 700.0,90.4 700.5,90.4 701.0,90.3 701.5,90.3 702.0,90.6 702.5,91.0 703.0,91.2 703.5,91.5 704.0,92.1 704.5,92.6 705.0,92.9 705.5,93.0 706.0,93.0 706.5,93.1 707.0,93.2 707.5,93.1 708.0,93.2 708.5,93.7 709.0,94.5 709.5,95.0 710.0,95.3 710.5,95.2 711.0,95.0 711.5,95.1 712.0,96.0 712.5,97.7 713.0,99.3 713.5,99.9 714.0,99.6 714.5,99.1 715.0,97.9 715.5,96.2 716.0,94.8 716.5,94.2 717.0,94.0 717.5,94.0 718.0,94.1 718.5,94.2 719.0,94.1 719.5,93.8 720.0,93.3 720.5,93.2 721.0,93.5 721.5,93.8 722.0,93.9 722.5,93.6 723.0,93.2 723.5,93.0 724.0,92.9 724.5,93.0 725.0,93.1 725.5,93.2 726.0,93.2 726.5,93.4 727.0,94.0 727.5,94.9 728.0,95.7 728.5,96.1 729.0,96.4 729.5,96.5 730.0,96.1 730.5,95.7 731.0,95.9 731.5,96.7 732.0,97.5 732.5,97.9 733.0,97.9 733.5,98.0 734.0,98.3 734.5,98.8 735.0,99.3 735.5,99.7 736.0,99.9 736.5,100.1 737.0,100.3 737.5,100.2 738.0,100.0 738.5,99.9 739.0,99.7 739.5,99.9 740.0,100.8 740.5,102.0 741.0,103.2 741.5,104.3 742.0,105.2 742.5,105.8 743.0,106.1 743.5,106.1 744.0,105.9 744.5,105.8 745.0,106.1 745.5,106.6 746.0,107.1 746.5,107.6 747.0,108.1 747.5,108.6 748.0,108.5 748.5,107.6 749.0,105.9 749.5,103.6 750.0,100.9 750.5,98.0 751.0,95.2 751.5,92.8 752.0,90.8 752.5,88.5 753.0,86.2 753.5,84.2 754.0,82.1 754.5,79.6 755.0,77.5 755.5,76.2 756.0,75.5 756.5,75.4 757.0,75.8 757.5,75.9 758.0,75.4 758.5,74.7 759.0,74.2 759.5,74.7 760.0,77.4 760.5,82.8 761.0,90.3 761.5,98.8 762.0,107.1 762.5,114.5 763.0,120.4 763.5,124.2 764.0,125.9 764.5,126.3 765.0,126.8 765.5,127.6 766.0,127.8 766.5,127.1 767.0,126.1 767.5,125.6 768.0,125.3 768.5,125.0 769.0,125.0 769.5,125.8 770.0,126.8 770.5,127.2 771.0,126.9 771.5,127.0 772.0,127.5 772.5,128.3 773.0,129.2 773.5,130.2 774.0,131.5 774.5,132.4 775.0,132.7 775.5,132.7 776.0,133.0 776.5,133.7 777.0,134.6 777.5,135.5 778.0,136.5 778.5,137.2 779.0,137.6 779.5,138.0 780.0,138.6 780.5,138.7 781.0,138.2 781.5,137.1 782.0,135.9 782.5,134.7 783.0,133.4 783.5,131.5 784.0,128.5 784.5,124.9 785.0,121.7 785.5,119.2 786.0,117.5 786.5,116.6 787.0,116.1 787.5,115.4 788.0,114.5 788.5,113.2 789.0,111.8 789.5,110.6 790.0,109.9 790.5,109.6 791.0,109.4 791.5,109.1 792.0,108.4 792.5,107.3 793.0,105.7 793.5,104.1 794.0,102.7 794.5,101.8 795.0,101.2 795.5,100.4 796.0,99.3 796.5,98.3 797.0,97.3 797.5,96.3 798.0,95.1 798.5,94.2 799.0,93.6 799.5,93.6 800.0,94.3 800.5,95.5 801.0,96.5 801.5,96.8 802.0,97.0 802.5,97.7 803.0,99.0 803.5,100.7 804.0,102.4 804.5,103.6 805.0,104.6 805.5,105.2 806.0,105.0 806.5,104.0 807.0,102.6 807.5,101.2 808.0,100.1 808.5,99.7 809.0,99.7 809.5,100.0 810.0,100.2 810.5,100.2 811.0,99.6 811.5,98.9 812.0,98.3 812.5,98.1 813.0,98.4 813.5,98.7 814.0,98.4 814.5,97.7 815.0,97.2 815.5,96.8 816.0,96.4 816.5,96.2 817.0,96.7 817.5,97.5 818.0,97.9 818.5,97.7 819.0,97.3 819.5,97.0 820.0,96.7 820.5,96.4 821.0,96.0 821.5,94.9 822.0,92.8 822.5,90.5 823.0,88.4 823.5,86.6 824.0,85.7 824.5,85.5 825.0,85.5 825.5,85.5 826.0,85.4 826.5,85.4 827.0,85.4 827.5,85.0 828.0,84.5 828.5,84.3 829.0,83.7 829.5,82.7 830.0,81.8 830.5,81.4 831.0,80.9 831.5,79.5 832.0,77.7 832.5,76.7 833.0,76.6 833.5,76.8 834.0,77.3 834.5,78.7 835.0,81.2 835.5,85.4 836.0,91.0 836.5,97.1 837.0,102.2 837.5,105.3 838.0,106.1 838.5,105.5 839.0,104.7 839.5,104.6 840.0,105.6 840.5,107.1 841.0,108.1 841.5,108.0 842.0,107.2 842.5,107.0 843.0,107.5 843.5,108.0 844.0,108.3 844.5,108.6 845.0,109.6 845.5,110.8 846.0,111.4 846.5,111.5 847.0,111.9 847.5,112.4 848.0,112.7 848.5,113.0 849.0,113.5 849.5,114.1 850.0,114.5 850.5,114.6 851.0,115.0 851.5,115.4 852.0,115.8 852.5,116.3 853.0,116.8 853.5,117.2 854.0,117.8 854.5,118.5 855.0,119.0 855.5,119.5 856.0,120.0 856.5,120.2 857.0,120.1 857.5,120.0 858.0,120.1 858.5,120.1 859.0,120.0 859.5,120.1 860.0,120.4 860.5,120.8 861.0,121.3 861.5,122.0 862.0,122.8 862.5,123.4 863.0,124.4 863.5,126.0 864.0,127.9 864.5,129.8 865.0,131.4 865.5,132.7 866.0,133.6 866.5,134.5 867.0,135.6 867.5,137.0 868.0,138.5 868.5,140.1 869.0,142.0 869.5,143.8 870.0,145.3 870.5,146.6 871.0,148.0 871.5,149.9 872.0,152.0 872.5,153.4 873.0,154.1 873.5,154.5 874.0,155.1 874.5,155.6 875.0,155.9 875.5,155.9 876.0,154.9 876.5,151.9 877.0,146.8 877.5,141.4 878.0,137.4 878.5,135.7 879.0,135.7 879.5,136.5 880.0,137.6 880.5,138.4 881.0,138.5 881.5,138.2 882.0,137.9 882.5,138.1 883.0,138.7 883.5,139.4 884.0,139.9 884.5,140.3 885.0,141.0 885.5,142.0 886.0,142.8 886.5,143.3 887.0,143.7 887.5,145.0 888.0,147.0 888.5,149.1 889.0,150.9 889.5,152.2 890.0,153.1 890.5,153.7 891.0,154.0 891.5,154.3 892.0,154.8 892.5,155.4 893.0,156.3 893.5,157.0 894.0,157.6 894.5,158.4 895.0,159.6 895.5,161.1 896.0,162.4 896.5,163.2 897.0,163.7 897.5,163.9 898.0,164.0 898.5,164.1 899.0,164.2 899.5,164.3 900.0,164.8 900.5,165.9 901.0,167.2 901.5,167.7 902.0,167.5 902.5,167.0 903.0,166.7 903.5,167.3 904.0,169.6 904.5,173.6 905.0,178.4 905.5,183.3 906.0,187.7 906.5,191.1 907.0,194.1 907.5,196.8 908.0,199.1 908.5,201.1 909.0,202.9 909.5,204.4 910.0,205.3 910.5,205.8 911.0,206.2 911.5,206.7 912.0,207.2 912.5,207.8 913.0,208.4 913.5,208.3 914.0,207.8 914.5,207.2 915.0,207.1 915.5,207.6" fill="none" stroke="#0000ff" stroke-width="1" stroke-linejoin="round" stroke-linecap="butt" />
<polyline points="0.0,463.0 5.0,455.0 8.7,454.4 12.5,458.7 18.7,466.0 25.0,475.0 31.0,486.0 37.5,495.0 43.0,503.0 47.0,509.0 50.0,511.7 53.0,511.5 57.0,508.0 62.0,503.0 66.0,499.0 70.0,495.0 75.0,487.5 80.0,476.0 85.0,462.5 90.0,451.0 95.0,445.0 100.0,443.0 106.0,443.7 110.0,436.0 113.4,425.0 120.0,405.0 125.0,391.8 130.0,380.0 135.0,371.7 140.0,364.0 145.0,359.0 153.4,358.4 158.4,354.0 166.8,351.7 173.5,350.9 178.5,355.9 183.5,365.0 190.0,373.4 196.9,381.8 203.5,387.6 207.7,391.0 211.9,383.4 218.6,376.8 225.3,384.0 231.7,388.4 238.4,381.7 242.5,388.4 246.7,405.0 251.7,415.0 258.4,423.4 265.0,431.0 270.0,436.0 272.6,436.8 276.8,425.0 281.8,413.4 286.8,403.4 291.8,393.4 298.5,385.0 303.5,377.0 305.9,373.0 310.9,358.5 316.8,343.5 323.4,331.8 328.5,324.3 334.3,318.4 338.5,319.3 343.5,326.8 348.5,335.0 351.8,339.3 356.8,331.8 361.8,321.8 366.9,312.6 371.9,303.4 376.9,297.5 383.6,295.0 390.2,297.5 396.9,292.0 400.9,288.5 408.4,281.5 416.8,273.5 423.4,266.8 428.5,260.0 431.8,248.5 435.0,235.0 438.5,223.4 441.8,213.4 446.0,203.4 448.8,195.0 453.4,186.8 460.0,178.5 465.0,166.8 469.3,155.0 473.5,143.6 479.4,135.0 486.0,123.5 492.7,113.5 499.4,108.0 504.4,111.8 510.3,117.6 516.0,113.5 522.8,105.0 529.5,99.3 536.2,96.0 541.2,91.8 547.0,85.0 551.2,87.6 554.5,95.0 559.5,102.6 566.2,107.6 574.6,111.0 581.3,109.3 589.6,106.8 594.6,98.4 599.6,91.8 605.0,88.0 611.7,89.3 620.0,87.6 626.7,89.8 633.4,88.8 640.0,90.0 646.8,96.0 653.4,100.0 660.0,102.6 666.8,104.3 673.5,106.8 678.5,109.3 683.5,103.5 688.5,98.5 693.5,94.3 700.2,91.0 706.9,91.4 711.9,93.0 716.9,93.8 725.3,93.4 733.6,95.0 740.0,96.8 745.0,100.0 750.9,102.6 756.7,93.4 761.7,88.4 765.0,96.8 769.2,106.8 774.2,115.0 779.2,121.0 783.4,124.3 788.4,121.8 793.4,116.8 797.6,111.0 801.8,107.6 808.5,106.8 815.2,103.5 821.8,100.0 826.8,95.0 831.9,91.0 836.0,88.4 840.2,93.4 846.9,99.3 853.6,105.0 860.2,111.8 866.9,118.5 871.9,127.5 876.0,136.7 882.0,137.3 887.0,137.5 889.8,141.0 894.8,145.5 899.8,151.0 904.8,157.5 908.2,165.0 911.5,173.4 914.8,181.8 917.3,188.4" fill="none" stroke="#00ff00" stroke-width="2.2" stroke-linejoin="round" stroke-linecap="butt" />
<line x1="20" y1="550.5" x2="933.5" y2="222" stroke="#000" stroke-width="2.2"/>
<path d="M946.5 0V593M946 585.5H950M946 571.5H950M946 557.5H950M946 543.5H954M946 529.5H950M946 515.5H950M946 502.5H950M946 488.5H950M946 474.5H954M946 460.5H950M946 447.5H950M946 433.5H950M946 420.5H950M946 406.5H954M946 393.5H950M946 379.5H950M946 366.5H950M946 352.5H950M946 339.5H954M946 326.5H950M946 313.5H950M946 299.5H950M946 286.5H950M946 273.5H954M946 260.5H950M946 247.5H950M946 234.5H950M946 221.5H950M946 208.5H954M946 195.5H950M946 183.5H950M946 170.5H950M946 157.5H950M946 144.5H954M946 132.5H950M946 119.5H950M946 106.5H950M946 94.5H950M946 81.5H954M946 69.5H950M946 56.5H950M946 44.5H950M946 31.5H950M946 19.5H954M946 7.5H950" stroke="#000" stroke-width="1" fill="none"/>
<path d="M11.5 593V608M39.5 593V608M75.5 593V608M108.5 593V608M140.5 593V608M172.5 593V608M209.5 593V608M243.5 593V608M276.5 593V608M311.5 593V608M351.5 593V608M391.5 593V608M431.5 593V608M472.5 593V608M511.5 593V608M551.5 593V608M592.5 593V608M633.5 593V608M673.5 593V608M714.5 593V608M755.5 593V608M795.5 593V608M836.5 593V608M877.5 593V608" stroke="#000" stroke-width="1" fill="none"/>
</svg>
<div class="t" style="left:13px;top:595px">17</div>
<div class="t" style="left:41px;top:595px">20</div>
<div class="t" style="left:77px;top:595px">21</div>
<div class="t" style="left:110px;top:595px">22</div>
<div class="t" style="left:142px;top:595px">23</div>
<div class="t" style="left:174px;top:595px">24</div>
<div class="t" style="left:211px;top:595px">27</div>
<div class="t" style="left:245px;top:595px">28</div>
<div class="t" style="left:278px;top:595px">29</div>
<div class="t" style="left:313px;top:595px">30</div>
<div class="t" style="left:353px;top:595px">December</div>
<div class="t" style="left:433px;top:595px">5</div>
<div class="t" style="left:474px;top:595px">6</div>
<div class="t" style="left:513px;top:595px">7</div>
<div class="t" style="left:553px;top:595px">8</div>
<div class="t" style="left:594px;top:595px">11</div>
<div class="t" style="left:635px;top:595px">12</div>
<div class="t" style="left:675px;top:595px">13</div>
<div class="t" style="left:716px;top:595px">14</div>
<div class="t" style="left:757px;top:595px">15</div>
<div class="t" style="left:797px;top:595px">18</div>
<div class="t" style="left:838px;top:595px">19</div>
<div class="t" style="left:879px;top:595px">20</div>
<div class="t" style="left:964px;top:538px">3100</div>
<div class="t" style="left:964px;top:469px">3150</div>
<div class="t" style="left:964px;top:401px">3200</div>
<div class="t" style="left:964px;top:334px">3250</div>
<div class="t" style="left:964px;top:268px">3300</div>
<div class="t" style="left:964px;top:203px">3350</div>
<div class="t" style="left:964px;top:139px">3400</div>
<div class="t" style="left:964px;top:76px">3450</div>
<div class="t" style="left:964px;top:15px">3500</div>
<div class="t" id="title" style="left:174px;top:3px;letter-spacing:-0.091px">FW20H7 1 min. (3346.0000, 3346.0000, 3346.0000, 3346.0000, +0.0000), Schaff Trend Cycle Indicator (3,357.00)</div>
</body></html>
